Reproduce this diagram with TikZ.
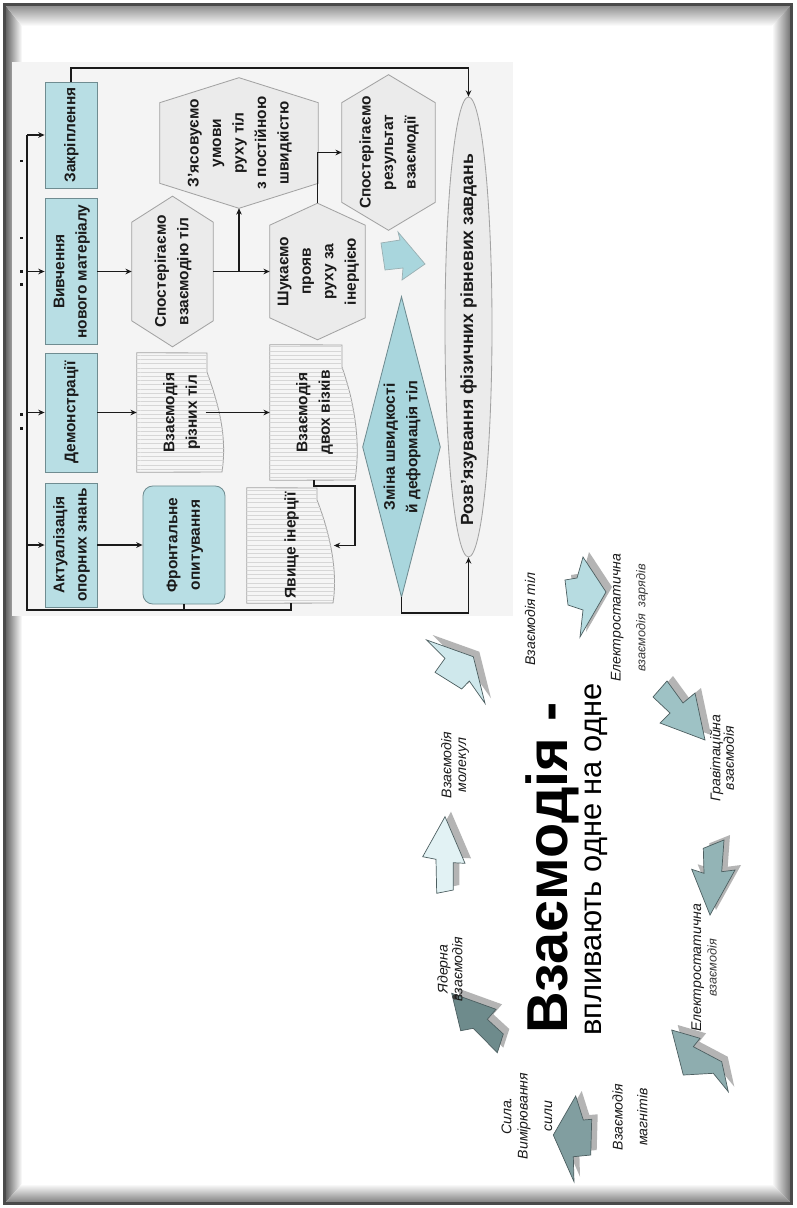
\documentclass[tikz,border=0pt]{standalone}
\usepackage{fontspec}
\setmainfont{Liberation Sans}
\usepackage{graphicx}
\usetikzlibrary{arrows.meta,calc,patterns}
\pgfdeclarelayer{back}
\pgfdeclarelayer{shapes}
\pgfsetlayers{back,shapes,main}

\definecolor{boxblue}{HTML}{B8DEE4}
\definecolor{boxline}{HTML}{6F8C91}
\definecolor{hexfill}{HTML}{EBEBEB}
\definecolor{hexline}{HTML}{A3A3A3}
\definecolor{docfill}{HTML}{F5F5F5}
\definecolor{docstripe}{HTML}{D6D6D6}
\definecolor{diafill}{HTML}{A9D6DD}
\definecolor{chartbg}{HTML}{F4F4F4}
\definecolor{ink}{HTML}{1A1A1A}
\definecolor{shadowc}{HTML}{B4B4B4}
\definecolor{arrline}{HTML}{4D5F61}
\definecolor{framec}{HTML}{4A4A4A}
\definecolor{arA}{HTML}{B7DCE1}
\definecolor{arB}{HTML}{CFE8EC}
\definecolor{arC}{HTML}{9EC2C5}
\definecolor{arD}{HTML}{E2F2F4}
\definecolor{arE}{HTML}{93B4B6}
\definecolor{arF}{HTML}{6E8B8C}
\definecolor{arG}{HTML}{8EADAF}
\definecolor{arH}{HTML}{819EA0}
\definecolor{softink}{HTML}{3A3A3A}

% rotated multi-line text block
\newcommand\rtx[1]{\rotatebox{90}{\begin{tabular}{@{}c@{}}#1\end{tabular}}}

% block arrow with a drop shadow
\newcommand\barrow[2]{%
  \fill[shadowc, shift={(6,-5)}] #2 -- cycle;
  \filldraw[fill=#1, draw=arrline, line width=0.5pt, line join=miter] #2 -- cycle;}

% hexagon drawn inside a named frame node
\newcommand\hexshape[2]{%
  \filldraw[fill=hexfill, draw=hexline, line width=0.6pt]
    (#1.north) -- ($(#1.north east)+(0,#2)$) -- ($(#1.south east)-(0,#2)$)
    -- (#1.south) -- ($(#1.south west)-(0,#2)$) -- ($(#1.north west)+(0,#2)$) -- cycle;}

\tikzset{
  ftxt/.style={font=\fontsize{11}{16}\selectfont\bfseries, text=ink},
  frame/.style={ftxt, draw=none, rectangle, inner sep=0pt},
  lbox/.style={frame, draw=boxline, fill=boxblue, line width=0.6pt},
  conn/.style={draw=ink, line width=1.1pt},
  arr/.style={conn, -{Stealth[length=4.5pt,width=4pt]}},
  lbl/.style={rotate=90, font=\fontsize{10}{12}\selectfont\itshape, align=center, inner sep=0pt, text=ink},
  docshape/.style={fill=docfill, draw=hexline, line width=0.6pt},
}

\begin{document}
\begin{tikzpicture}[x=0.025cm, y=-0.025cm]
\useasboundingbox (0,0) rectangle (796,1208);

% ---------- slide frame ----------
\begin{pgfonlayer}{back}
  \fill[white] (0,0) rectangle (796,1208);
  \shade[left color={rgb,255:red,94;green,94;blue,94}, right color=white]
    (5,5) -- (22,26) -- (22,1184) -- (5,1203) -- cycle;
  \shade[top color={rgb,255:red,140;green,140;blue,140}, bottom color=white]
    (5,5) -- (791,5) -- (772,26) -- (22,26) -- cycle;
  \shade[left color=white, right color={rgb,255:red,110;green,110;blue,110}]
    (791,5) -- (791,1203) -- (772,1184) -- (772,26) -- cycle;
  \shade[top color=white, bottom color={rgb,255:red,124;green,124;blue,124}]
    (5,1203) -- (791,1203) -- (772,1184) -- (22,1184) -- cycle;
  \draw[framec, line width=1.5pt] (4.5,4.5) rectangle (791.5,1203.5);
  % flowchart panel
  \fill[chartbg] (12,62) rectangle (513,616);
  % stray marks at the panel edge
  \foreach \yy in {160,237,270,283,413,427} \fill[ink] (20,\yy) rectangle (22.5,\yy+2.5);
\end{pgfonlayer}

% ---------- flowchart nodes ----------
\node[lbox, minimum width=1.3cm, minimum height=2.65cm] (zakr) at (71,135) {\rtx{Закріплення}};
\node[lbox, minimum width=1.3cm, minimum height=3.65cm] (vyv) at (71,271.5) {\rtx{Вивчення\\нового матеріалу}};
\node[lbox, minimum width=1.3cm, minimum height=2.975cm] (dem) at (71,412.5) {\rtx{Демонстрації}};
\node[lbox, minimum width=1.3cm, minimum height=3.1cm] (akt) at (71,545) {\rtx{Актуалізація\\опорних знань}};

\node[frame, minimum width=2.025cm, minimum height=3.75cm] (hexS) at (172.5,271.5) {\rtx{Спостерігаємо\\взаємодію тіл}};
\node[frame, minimum width=3.95cm, minimum height=3.25cm] (hexZ) at (239,143) {\rtx{З'ясовуємо\\умови\\руху тіл\\з постійною\\швидкістю}};
\node[frame, minimum width=2.375cm, minimum height=3.4cm] (hexSh) at (317.5,271.5) {\rtx{Шукаємо\\прояв\\руху за\\інерцією}};
\node[frame, minimum width=2.325cm, minimum height=3.875cm] (hexR) at (388.5,152.5) {\rtx{Спостерігаємо\\результат\\взаємодії}};

\node[frame, minimum width=2.2cm, minimum height=2.975cm] (docA) at (181,412.5) {\rtx{Взаємодія\\різних тіл}\hspace{0.9cm}};
\node[frame, minimum width=2.2cm, minimum height=3.375cm] (docB) at (314,412.5) {\rtx{Взаємодія\\двох візків}\hspace{0.45cm}};
\node[frame, minimum width=2.2cm, minimum height=2.875cm] (docC) at (291,545.5) {\rtx{Явище інерції}\hspace{0.35cm}};

\node[lbox, rounded corners=7pt, minimum width=2.05cm, minimum height=2.95cm] (fro) at (184,545) {\rtx{Фронтальне\\опитування}};

\node[frame, minimum width=1.925cm, minimum height=7.5cm] (dia) at (401.5,447) {\rtx{Зміна швидкості\\й деформація тіл}};
\node[frame, minimum width=1.175cm, minimum height=11.5cm] (ell) at (468.5,327) {};
\node[ftxt, font=\fontsize{12.5}{15}\selectfont\bfseries, inner sep=0pt] (elltext) at (469,340) {\rtx{Розв'язування фізичних рівневих завдань}};

% ---------- shapes behind the texts ----------
\begin{pgfonlayer}{shapes}
  \hexshape{hexS}{26}
  \hexshape{hexZ}{25}
  \hexshape{hexSh}{22}
  \hexshape{hexR}{28}
  \path[docshape] (docA.north west) -- (207,353) -- (207,372) .. controls (216,398) and (228,432) .. (222,472) -- (docA.south west) -- cycle;
  \path[pattern=horizontal lines, pattern color=docstripe] (docA.north west) -- (207,353) -- (207,372) .. controls (216,398) and (228,432) .. (222,472) -- (docA.south west) -- cycle;
  \path[docshape] (docB.north west) -- (342,345) -- (342,367) .. controls (351,393) and (362,435) .. (355,480) -- (docB.south west) -- cycle;
  \path[pattern=horizontal lines, pattern color=docstripe] (docB.north west) -- (342,345) -- (342,367) .. controls (351,393) and (362,435) .. (355,480) -- (docB.south west) -- cycle;
  \path[docshape] (docC.north west) -- (317,488) -- (317,500) .. controls (326,523) and (339,565) .. (333,603) -- (docC.south west) -- cycle;
  \path[pattern=horizontal lines, pattern color=docstripe] (docC.north west) -- (317,488) -- (317,500) .. controls (326,523) and (339,565) .. (333,603) -- (docC.south west) -- cycle;
  \filldraw[fill=diafill, draw=boxline, line width=0.6pt] (dia.north) -- (dia.east) -- (dia.south) -- (dia.west) -- cycle;
  \filldraw[fill=hexfill, draw=hexline, line width=0.6pt] (ell.center) ellipse [x radius=23.5, y radius=230];
  % block arrow from the result hexagon to the diamond
  \filldraw[fill=diafill, draw=boxline!70, line width=0.5pt]
    (381,243) -- (400,240) -- (398,232) -- (425,264) -- (402,280) -- (403,268) -- (385,270) -- cycle;
\end{pgfonlayer}

% ---------- connectors ----------
\coordinate (lt) at (27,135);
\coordinate (lb) at (27,610);
\coordinate (tt) at (71,68);
\coordinate (botline) at (0,613);
\coordinate (bend) at (355,486);
\coordinate (j1) at (hexZ.south |- hexS.east);

\draw[conn] (lt) -- (lb) -| (fro.south);
\draw[conn] (lb) -| (docC.south);
\draw[arr] (lt) -- (zakr.west);
\draw[arr] (vyv.west -| lt) -- (vyv.west);
\draw[arr] (dem.west -| lt) -- (dem.west);
\draw[arr] (akt.west -| lt) -- (akt.west);

\draw[arr] (zakr.north) -- (tt) -| (ell.north);
\draw[arr] (vyv.east) -- (hexS.west);
\draw[conn] (hexS.east) -- (j1);
\draw[arr] (j1) -- (hexZ.south);
\draw[arr] (j1) -- (hexSh.west);
\draw[arr] (hexSh.north) |- (hexR.west);
\draw[arr] (dem.east) -- (docA.west);
\draw[arr] (akt.east) -- (fro.west);
\draw[arr] ([xshift=-14pt]docA.east) -- (docB.west);
\draw[arr] (docB.south) |- (bend) |- ([xshift=-1pt]docC.east);
\draw[arr] (dia.south) -- (dia.south |- botline) -| (ell.south);

% ---------- cycle of block arrows ----------
\barrow{arA}{(565,580) -- (577,578) -- (583,557) -- (606,592) -- (580,637) -- (583,610) -- (568,605)}
\barrow{arB}{(426.7,640) -- (473.3,656.7) -- (485,703.3) -- (469.3,681) -- (461.7,689) -- (435,672.3) -- (445,658.3)}
\barrow{arC}{(653,697) -- (667,681) -- (683,703) -- (695,693) -- (705,740) -- (660,723) -- (670,713)}
\barrow{arD}{(422.7,856.7) -- (445,816.7) -- (465,863.3) -- (453.3,862.7) -- (453.3,890) -- (436.7,893.3) -- (436,859.3)}
\barrow{arE}{(703.3,848.3) -- (724,840) -- (721.7,871.7) -- (735,870) -- (710,915) -- (691.7,869.3) -- (704,873.3)}
\barrow{arF}{(451.7,993.3) -- (496,1009.3) -- (487.3,1019.3) -- (503.3,1034) -- (497.3,1052.7) -- (473.3,1028.3) -- (460.7,1030.7)}
\barrow{arG}{(671.7,1030) -- (700,1038.3) -- (693.3,1046.7) -- (721.7,1061.7) -- (728.3,1091.7) -- (713.3,1073.3) -- (683.3,1075)}
\barrow{arH}{(553.3,1135) -- (575.7,1096) -- (583.3,1120) -- (591.7,1119.3) -- (590.7,1155) -- (573.3,1156.7) -- (574,1181.7)}
\fill[softink] (455,997) circle [radius=2.6];

% ---------- title ----------
\node[rotate=90, anchor=base west, inner sep=0pt, font=\fontsize{41}{45}\selectfont\bfseries] (title) at (567,1034) {Взаємодія -};
\node[rotate=90, anchor=base west, inner sep=0pt, font=\fontsize{22}{26}\selectfont] (subtitle) at (601,1036) {впливають одне на одне};

% ---------- labels ----------
\node[lbl] (l1) at (530,619) {Взаємодія тіл};
\node[lbl] (l2) at (629.5,618) {Електростатична\\[5.5pt]{\fontsize{9}{11}\selectfont\color{softink}взаємодія~~зарядів}};
\node[lbl] (l3) at (455,765) {Взаємодія\\[-1.5pt]молекул};
\node[lbl] (l4) at (722,758) {Гравітаційна\\[-2.5pt]взаємодія};
\node[lbl] (l5) at (450,969) {Ядерна\\[-1.5pt]взаємодія};
\node[lbl] (l6) at (704,968) {Електростатична\\[-1pt]{\fontsize{9}{11}\selectfont\color{softink}взаємодія}};
\node[lbl] (l7) at (527,1116) {Сила.\\[-0.5pt]Вимірювання\\[5.5pt]сили};
\node[lbl] (l8) at (630,1117) {Взаємодія\\[5.5pt]магнітів};

\end{tikzpicture}
\end{document}
